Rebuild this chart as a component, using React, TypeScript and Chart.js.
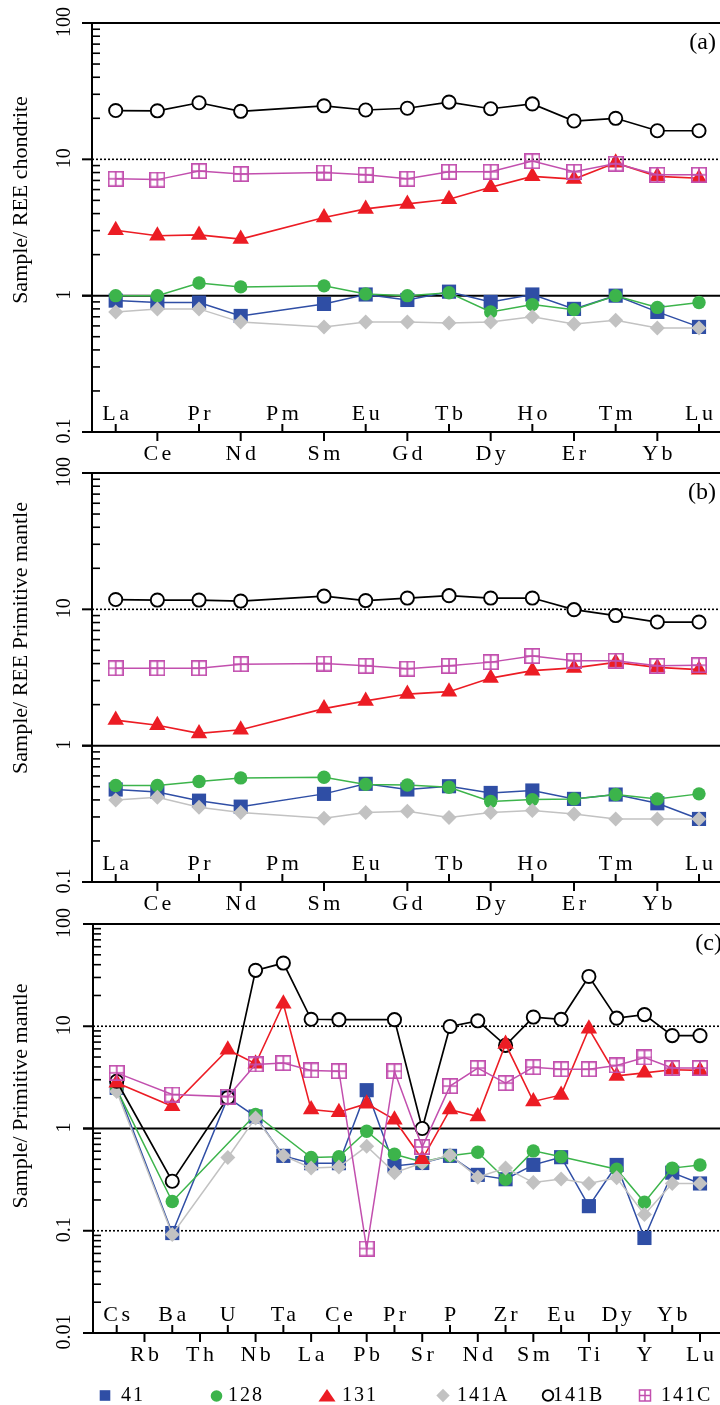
import React, { useEffect, useRef } from 'react';
import { Chart, registerables } from 'chart.js';

Chart.register(...registerables);

// ---------------- categories ----------------
const REE_LABELS = ['La', 'Ce', 'Pr', 'Nd', 'Pm', 'Sm', 'Eu', 'Gd', 'Tb', 'Dy', 'Ho', 'Er', 'Tm', 'Yb', 'Lu'];
const SPIDER_LABELS = ['Cs', 'Rb', 'Ba', 'Th', 'U', 'Nb', 'Ta', 'La', 'Ce', 'Pb', 'Pr', 'Sr', 'P', 'Nd', 'Zr', 'Sm', 'Eu', 'Ti', 'Dy', 'Y', 'Yb', 'Lu'];
const SERIES_NAMES = ['41', '128', '131', '141A', '141B', '141C'];

// ---------------- y tick labels ----------------
const REE_TICK_VALUES = [0.1, 1, 10, 100];
const REE_TICK_LABELS = ['0.1', '1', '10', '100'];
const SPIDER_TICK_VALUES = [0.01, 0.1, 1, 10, 100];
const SPIDER_TICK_LABELS = ['0.01', '0.1', '1', '10', '100'];

// ---------------- panel (a): Sample / REE chondrite ----------------
const A_41 = [0.92, 0.89, 0.89, 0.71, null, 0.87, 1.02, 0.93, 1.07, 0.90, 1.02, 0.80, 1.00, 0.76, 0.59];
const A_128 = [1.00, 1.00, 1.24, 1.16, null, 1.18, 1.03, 1.00, 1.05, 0.76, 0.86, 0.79, 1.00, 0.82, 0.89];
const A_131 = [3.02, 2.75, 2.79, 2.6, null, 3.75, 4.33, 4.71, 5.1, 6.25, 7.5, 7.16, 9.42, 7.5, 7.26];
const A_141A = [0.76, 0.80, 0.80, 0.64, null, 0.59, 0.64, 0.64, 0.63, 0.64, 0.70, 0.62, 0.66, 0.58, 0.58];
const A_141B = [22.8, 22.7, 26.0, 22.5, null, 24.7, 23.0, 23.7, 26.3, 23.5, 25.5, 19.1, 20.0, 16.2, 16.2];
const A_141C = [7.2, 7.1, 8.2, 7.8, null, 8.0, 7.7, 7.2, 8.1, 8.1, 9.7, 8.1, 9.3, 7.7, 7.7];

// ---------------- panel (b): Sample / REE primitive mantle ----------------
const B_41 = [0.477, 0.458, 0.395, 0.357, null, 0.443, 0.525, 0.477, 0.504, 0.45, 0.469, 0.407, 0.438, 0.378, 0.29];
const B_128 = [0.51, 0.51, 0.546, 0.58, null, 0.587, 0.52, 0.515, 0.496, 0.389, 0.402, 0.407, 0.438, 0.407, 0.443];
const B_131 = [1.54, 1.41, 1.23, 1.31, null, 1.87, 2.13, 2.39, 2.49, 3.13, 3.55, 3.72, 4.08, 3.75, 3.61];
const B_141A = [0.40, 0.418, 0.353, 0.324, null, 0.294, 0.324, 0.33, 0.297, 0.324, 0.334, 0.315, 0.29, 0.29, 0.29];
const B_141B = [11.8, 11.7, 11.7, 11.5, null, 12.5, 11.6, 12.1, 12.6, 12.1, 12.1, 9.95, 9.0, 8.07, 8.07];
const B_141C = [3.7, 3.7, 3.7, 3.96, null, 4.0, 3.85, 3.67, 3.85, 4.1, 4.55, 4.2, 4.2, 3.85, 3.89];

// ---------------- panel (c): Sample / primitive mantle (spider) ----------------
const C_41 = [2.5, null, 0.095, null, 2.0, 1.31, 0.54, 0.458, 0.458, 2.37, 0.43, 0.46, 0.54, 0.352, 0.319, 0.441, 0.524, 0.174, 0.44, 0.085, 0.37, 0.29];
const C_128 = [2.41, null, 0.193, null, null, 1.37, null, 0.52, 0.53, 0.94, 0.56, 0.47, 0.54, 0.586, 0.319, 0.604, 0.53, null, 0.40, 0.19, 0.41, 0.44];
const C_131 = [2.8, null, 1.65, null, 5.9, 4.3, 16.6, 1.53, 1.44, 1.75, 1.22, 0.5, 1.53, 1.31, 6.7, 1.84, 2.13, 9.45, 3.27, 3.5, 3.75, 3.7];
const C_141A = [2.3, null, 0.092, null, 0.52, 1.27, 0.544, 0.41, 0.42, 0.67, 0.37, 0.46, 0.55, 0.334, 0.41, 0.296, 0.32, 0.29, 0.33, 0.144, 0.29, 0.29];
const C_141B = [2.9, null, 0.305, null, 2.0, 35.2, 41.5, 11.7, 11.6, null, 11.6, 1.0, 9.96, 11.3, 6.5, 12.3, 11.7, 30.7, 12.0, 13.0, 8.1, 8.1];
const C_141C = [3.5, null, 2.15, null, 2.05, 4.23, 4.36, 3.7, 3.64, 0.067, 3.64, 0.66, 2.6, 3.9, 2.78, 3.98, 3.8, 3.8, 4.14, 4.95, 3.9, 3.9];

// ---------------- styles ----------------
const FONT = '"Liberation Serif", "Times New Roman", serif';
const BLUE = '#2f4ea5';
const GREEN = '#3cb44b';
const RED = '#ec1c24';
const GRAY = '#c2c2c2';
const BLACK = '#000000';
const MAGENTA = '#c24fae';

function makeSquarePlus(color: string, size: number, lw: number) {
  const c = document.createElement('canvas');
  c.width = size;
  c.height = size;
  const g = c.getContext('2d')!;
  g.strokeStyle = color;
  g.lineWidth = lw;
  const h = lw / 2;
  g.strokeRect(h, h, size - lw, size - lw);
  g.beginPath();
  g.moveTo(size / 2, h);
  g.lineTo(size / 2, size - h);
  g.moveTo(h, size / 2);
  g.lineTo(size - h, size / 2);
  g.stroke();
  return c;
}

type PanelCfg = {
  labels: string[];
  series: (number | null)[][];
  tickValues: number[];
  tickLabels: string[];
  yMin: number;
  yMax: number;
  canvasTop: number;
  height: number;
  plotTop: number;
  plotBottom: number;
  plotLeft: number;
  xFirst: number;
  xLast: number;
  title: string;
  titleY: number;
  tag: string;
  tagRight: number;
  dotted: number[];
  legend: boolean;
};

function strokeLine(ctx: CanvasRenderingContext2D, x1: number, y1: number, x2: number, y2: number) {
  ctx.beginPath();
  ctx.moveTo(x1, y1);
  ctx.lineTo(x2, y2);
  ctx.stroke();
}

function spacedText(ctx: CanvasRenderingContext2D, text: string, cx: number, y: number, ls: number) {
  (ctx as any).letterSpacing = ls + 'px';
  const w = ctx.measureText(text).width;
  ctx.textAlign = 'left';
  ctx.fillText(text, cx - (w - ls) / 2, y);
  (ctx as any).letterSpacing = '0px';
}

function makeDeco(cfg: PanelCfg) {
  return {
    id: 'deco',
    beforeDatasetsDraw(chart: any) {
      const { ctx, chartArea: a, scales } = chart;
      const y = scales.y;
      ctx.save();
      ctx.strokeStyle = '#000';
      ctx.lineWidth = 1.6;
      ctx.setLineDash([2, 2]);
      for (const v of cfg.dotted) {
        const py = y.getPixelForValue(v);
        strokeLine(ctx, a.left, py, a.right, py);
      }
      ctx.setLineDash([]);
      ctx.lineWidth = 2;
      const p1 = y.getPixelForValue(1);
      strokeLine(ctx, a.left - 10, p1, a.right, p1);
      ctx.restore();
    },
    afterDraw(chart: any) {
      const { ctx, chartArea: a, scales } = chart;
      const x = scales.x;
      const y = scales.y;
      ctx.save();
      ctx.strokeStyle = '#000';
      ctx.fillStyle = '#000';
      ctx.lineWidth = 2;
      // frame
      strokeLine(ctx, a.left, a.top, a.left, a.bottom);
      strokeLine(ctx, a.left - 10, a.top, a.right, a.top);
      strokeLine(ctx, a.left - 10, a.bottom, a.right, a.bottom);
      // major ticks
      for (const v of cfg.tickValues) {
        const py = y.getPixelForValue(v);
        strokeLine(ctx, a.left - 10, py, a.left, py);
      }
      // minor ticks
      ctx.lineWidth = 1.6;
      const e0 = Math.round(Math.log10(cfg.yMin));
      const e1 = Math.round(Math.log10(cfg.yMax));
      for (let e = e0; e < e1; e++) {
        const d = Math.pow(10, e);
        for (let k = 2; k <= 9; k++) {
          const py = y.getPixelForValue(k * d);
          strokeLine(ctx, a.left, py, a.left + 8, py);
        }
      }
      // x ticks and labels
      ctx.lineWidth = 2;
      ctx.font = `22px ${FONT}`;
      ctx.textBaseline = 'alphabetic';
      cfg.labels.forEach((lab, i) => {
        const px = x.getPixelForValue(i);
        if (i % 2 === 0) {
          strokeLine(ctx, px, a.bottom, px, a.bottom - 8);
          spacedText(ctx, lab, px, a.bottom - 12, 3.5);
        } else {
          strokeLine(ctx, px, a.bottom, px, a.bottom + 9);
          spacedText(ctx, lab, px, a.bottom + 28, 3.5);
        }
      });
      // y tick labels (rotated)
      ctx.font = `20px ${FONT}`;
      ctx.textAlign = 'center';
      ctx.textBaseline = 'middle';
      cfg.tickValues.forEach((v, j) => {
        const py = y.getPixelForValue(v);
        ctx.save();
        ctx.translate(65, py - 1);
        ctx.rotate(-Math.PI / 2);
        ctx.fillText(cfg.tickLabels[j], 0, 0);
        ctx.restore();
      });
      // y title
      ctx.font = `22px ${FONT}`;
      ctx.save();
      ctx.translate(21, cfg.titleY - cfg.canvasTop);
      ctx.rotate(-Math.PI / 2);
      ctx.fillText(cfg.title, 0, 0);
      ctx.restore();
      // panel tag
      ctx.font = `24px ${FONT}`;
      ctx.textAlign = 'right';
      ctx.fillText(cfg.tag, cfg.tagRight, a.top + 20);
      // legend
      if (cfg.legend) {
        const ly = 1395.5 - cfg.canvasTop;
        const by = 1400.5 - cfg.canvasTop;
        // 41
        ctx.fillStyle = BLUE;
        ctx.fillRect(105 - 5.3, ly - 5.3, 10.6, 10.6);
        // 128
        ctx.fillStyle = GREEN;
        ctx.beginPath();
        ctx.arc(216.5, ly + 0.5, 5.8, 0, Math.PI * 2);
        ctx.fill();
        // 131
        ctx.fillStyle = RED;
        ctx.beginPath();
        ctx.moveTo(327, ly - 6.5);
        ctx.lineTo(335.5, ly + 6);
        ctx.lineTo(318.5, ly + 6);
        ctx.closePath();
        ctx.fill();
        // 141A
        ctx.fillStyle = GRAY;
        ctx.beginPath();
        ctx.moveTo(443, ly - 6.7);
        ctx.lineTo(449.7, ly);
        ctx.lineTo(443, ly + 6.7);
        ctx.lineTo(436.3, ly);
        ctx.closePath();
        ctx.fill();
        // 141B
        ctx.strokeStyle = BLACK;
        ctx.lineWidth = 1.8;
        ctx.beginPath();
        ctx.arc(548, ly, 5.3, 0, Math.PI * 2);
        ctx.stroke();
        // 141C
        ctx.strokeStyle = MAGENTA;
        ctx.lineWidth = 1.5;
        ctx.strokeRect(645 - 5.5, ly - 5.5, 11, 11);
        strokeLine(ctx, 645, ly - 5.5, 645, ly + 5.5);
        strokeLine(ctx, 645 - 5.5, ly, 645 + 5.5, ly);
        // texts
        ctx.fillStyle = '#000';
        ctx.font = `20px ${FONT}`;
        ctx.textBaseline = 'alphabetic';
        ctx.textAlign = 'left';
        (ctx as any).letterSpacing = '2px';
        const textX = [121, 228, 342, 457, 553, 661];
        SERIES_NAMES.forEach((nm, k) => ctx.fillText(nm, textX[k], by));
        (ctx as any).letterSpacing = '0px';
      }
      ctx.restore();
    },
  };
}

function buildConfig(cfg: PanelCfg, squarePlus: HTMLCanvasElement): any {
  const n = cfg.labels.length;
  const s = (cfg.xLast - cfg.xFirst) / (n - 1);
  const xmin = -(cfg.xFirst - cfg.plotLeft) / s;
  const xmax = n - 1 + (720 - cfg.xLast) / s;
  const styles = [
    { line: BLUE, fill: BLUE, border: BLUE, ps: 'rect', r: 10, bw: 0, lw: 1.5, order: 5 },
    { line: GREEN, fill: GREEN, border: GREEN, ps: 'circle', r: 6.7, bw: 0, lw: 1.5, order: 4 },
    { line: RED, fill: RED, border: RED, ps: 'triangle', r: 9.5, bw: 0, lw: 1.6, order: 1 },
    { line: GRAY, fill: GRAY, border: GRAY, ps: 'rectRot', r: 7.5, bw: 0, lw: 1.5, order: 3 },
    { line: BLACK, fill: '#ffffff', border: BLACK, ps: 'circle', r: 6.6, bw: 1.9, lw: 1.7, order: 2 },
    { line: MAGENTA, fill: 'rgba(0,0,0,0)', border: MAGENTA, ps: squarePlus, r: 7, bw: 0, lw: 1.5, order: 0 },
  ];
  const datasets = SERIES_NAMES.map((name, k) => {
    const st = styles[k];
    return {
      label: name,
      data: cfg.series[k].map((v, i) => ({ x: i, y: v })),
      borderColor: st.line,
      backgroundColor: st.fill,
      borderWidth: st.lw,
      pointStyle: st.ps,
      pointRadius: st.r,
      pointBackgroundColor: st.fill,
      pointBorderColor: st.border,
      pointBorderWidth: st.bw,
      spanGaps: true,
      tension: 0,
      order: st.order,
      clip: false,
    };
  });
  return {
    type: 'line',
    data: { datasets },
    options: {
      responsive: false,
      animation: false,
      events: [],
      layout: {
        autoPadding: false,
        padding: {
          left: cfg.plotLeft,
          right: 0,
          top: cfg.plotTop - cfg.canvasTop,
          bottom: cfg.canvasTop + cfg.height - cfg.plotBottom,
        },
      },
      scales: {
        x: { type: 'linear', min: xmin, max: xmax, display: false },
        y: { type: 'logarithmic', min: cfg.yMin, max: cfg.yMax, display: false },
      },
      plugins: { legend: { display: false }, tooltip: { enabled: false } },
    },
    plugins: [makeDeco(cfg)],
  };
}

function Panel({ cfg }: { cfg: PanelCfg }) {
  const ref = useRef<HTMLCanvasElement>(null);
  useEffect(() => {
    const sp = makeSquarePlus(MAGENTA, 16, 1.7);
    const chart = new Chart(ref.current as HTMLCanvasElement, buildConfig(cfg, sp));
    return () => chart.destroy();
  }, []);
  return (
    <canvas
      ref={ref}
      width={720}
      height={cfg.height}
      style={{ position: 'absolute', left: 0, top: cfg.canvasTop, width: 720, height: cfg.height, display: 'block' }}
    />
  );
}

const PANEL_A: PanelCfg = {
  labels: REE_LABELS,
  series: [A_41, A_128, A_131, A_141A, A_141B, A_141C],
  tickValues: REE_TICK_VALUES,
  tickLabels: REE_TICK_LABELS,
  yMin: 0.1,
  yMax: 100,
  canvasTop: 0,
  height: 475,
  plotTop: 23,
  plotBottom: 432,
  plotLeft: 92,
  xFirst: 115.7,
  xLast: 699,
  title: 'Sample/ REE chondrite',
  titleY: 200,
  tag: '(a)',
  tagRight: 716,
  dotted: [10],
  legend: false,
};

const PANEL_B: PanelCfg = {
  labels: REE_LABELS,
  series: [B_41, B_128, B_131, B_141A, B_141B, B_141C],
  tickValues: REE_TICK_VALUES,
  tickLabels: REE_TICK_LABELS,
  yMin: 0.1,
  yMax: 100,
  canvasTop: 455,
  height: 465,
  plotTop: 473,
  plotBottom: 882,
  plotLeft: 92,
  xFirst: 115.7,
  xLast: 699,
  title: 'Sample/ REE Primitive mantle',
  titleY: 638,
  tag: '(b)',
  tagRight: 716,
  dotted: [10],
  legend: false,
};

const PANEL_C: PanelCfg = {
  labels: SPIDER_LABELS,
  series: [C_41, C_128, C_131, C_141A, C_141B, C_141C],
  tickValues: SPIDER_TICK_VALUES,
  tickLabels: SPIDER_TICK_LABELS,
  yMin: 0.01,
  yMax: 100,
  canvasTop: 905,
  height: 500,
  plotTop: 924,
  plotBottom: 1333,
  plotLeft: 93,
  xFirst: 116.7,
  xLast: 700,
  title: 'Sample/ Primitive mantle',
  titleY: 1096,
  tag: '(c)',
  tagRight: 722,
  dotted: [10, 0.1],
  legend: true,
};

export default function App() {
  return (
    <div style={{ position: 'absolute', left: 0, top: 0, width: 720, height: 1405, overflow: 'hidden', background: '#ffffff' }}>
      <Panel cfg={PANEL_A} />
      <Panel cfg={PANEL_B} />
      <Panel cfg={PANEL_C} />
    </div>
  );
}
